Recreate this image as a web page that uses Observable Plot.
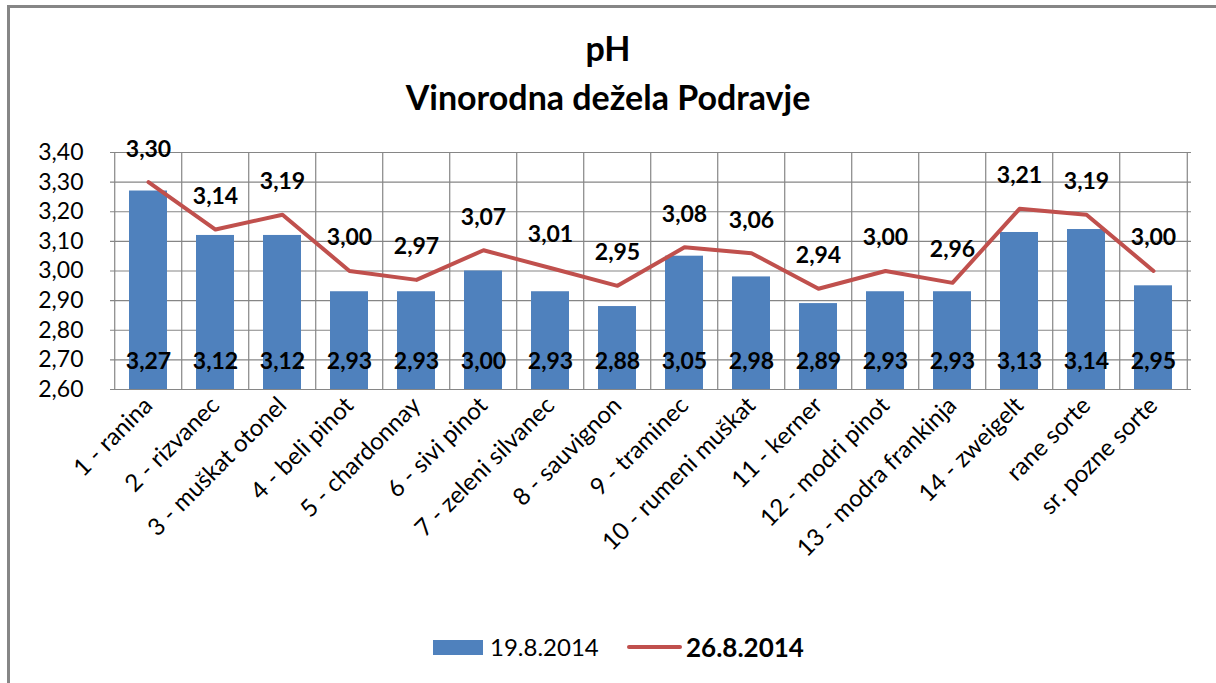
<!DOCTYPE html>
<html>
<head>
<meta charset="utf-8">
<script src="https://cdn.jsdelivr.net/npm/d3@7"></script>
<script src="https://cdn.jsdelivr.net/npm/@observablehq/plot@0.6"></script>
<style>
  html, body { margin: 0; padding: 0; background: #fff; }
  body { width: 1216px; height: 683px; position: relative; overflow: hidden; font-family: Lato, "Open Sans", sans-serif; }
  #frame { position: absolute; left: 7px; top: 5px; right: -10px; bottom: -10px; border-left: 3px solid #868686; border-top: 3px solid #868686; }
  .title { position: absolute; left: 0; width: 1216px; text-align: center; font-weight: bold; font-size: 34px; line-height: 40px; color: #000; }
  #chart { position: absolute; left: 0; top: 0; }
  #legend { position: absolute; left: 0; top: 632px; width: 1216px; height: 30px; }
  .lg { position: absolute; line-height: 30px; top: 0; color: #000; }
</style>
</head>
<body>
<div id="frame"></div>
<div class="title" style="top:28px;">pH</div>
<div class="title" style="top:77px;">Vinorodna dežela Podravje</div>
<div id="chart"></div>
<div id="legend">
  <div style="position:absolute;left:433px;top:8px;width:50px;height:15px;background:#4F81BD;"></div>
  <div class="lg" style="left:490px;font-size:24px;">19.8.2014</div>
  <div style="position:absolute;left:627px;top:13px;width:55px;height:4px;background:#C0504D;border-radius:2px;"></div>
  <div class="lg" style="left:686px;font-weight:bold;font-size:26px;">26.8.2014</div>
</div>
<script>
const categories = ["1 - ranina", "2 - rizvanec", "3 - muškat otonel", "4 - beli pinot", "5 - chardonnay", "6 - sivi pinot", "7 - zeleni silvanec", "8 - sauvignon", "9 - traminec", "10 - rumeni muškat", "11 - kerner", "12 - modri pinot", "13 - modra frankinja", "14 - zweigelt", "rane sorte", "sr. pozne sorte"];
const values19 = [3.27, 3.12, 3.12, 2.93, 2.93, 3.00, 2.93, 2.88, 3.05, 2.98, 2.89, 2.93, 2.93, 3.13, 3.14, 2.95];
const values26 = [3.30, 3.14, 3.19, 3.00, 2.97, 3.07, 3.01, 2.95, 3.08, 3.06, 2.94, 3.00, 2.96, 3.21, 3.19, 3.00];
const yTicks = [2.6, 2.7, 2.8, 2.9, 3.0, 3.1, 3.2, 3.3, 3.4];
const labelBase = 2.7;

const fmt = d => d.toFixed(2).replace(".", ",");
const rows = categories.map((c, i) => ({cat: c, v19: values19[i], v26: values26[i]}));

const W = 1216, H = 610, mL = 110, mR = 25, mT = 152, mB = 221;
const step = (W - mL - mR) / categories.length;

const chart = Plot.plot({
  width: W, height: H,
  marginLeft: mL, marginRight: mR, marginTop: mT, marginBottom: mB,
  style: {fontFamily: "Lato, 'Open Sans', sans-serif", fontSize: "22px", color: "#000", background: "transparent"},
  x: {domain: categories, paddingInner: 0.44, paddingOuter: 0.22, align: 0.5, label: null},
  y: {domain: [2.6, 3.4], label: null},
  marks: [
    Plot.ruleY(yTicks, {stroke: "#868686", strokeWidth: 1.2}),
    Plot.ruleX(categories, {x: d => d, dx: -step / 2, stroke: "#868686", strokeWidth: 1.2}),
    Plot.ruleX(categories.slice(-1), {x: d => d, dx: step / 2, stroke: "#868686", strokeWidth: 1.2}),
    Plot.barY(rows, {x: "cat", y1: 2.6, y2: "v19", fill: "#4F81BD"}),
    Plot.line(rows, {x: "cat", y: "v26", stroke: "#C0504D", strokeWidth: 4, strokeLinejoin: "round"}),
    Plot.text(rows, {x: "cat", y: () => labelBase, text: d => fmt(d.v19), fontWeight: "bold", fontSize: 23, dy: 2, fill: "#000"}),
    Plot.text(rows, {x: "cat", y: "v26", text: d => fmt(d.v26), fontWeight: "bold", fontSize: 23, dy: -33, fill: "#000"}),
    Plot.axisX({tickSize: 0, tickRotate: -45, tickPadding: 12, fontSize: 24, label: null}),
    Plot.axisY({ticks: yTicks, tickFormat: fmt, tickSize: 0, tickPadding: 27, fontSize: 23, label: null})
  ]
});
document.getElementById("chart").appendChild(chart);
</script>
</body>
</html>
